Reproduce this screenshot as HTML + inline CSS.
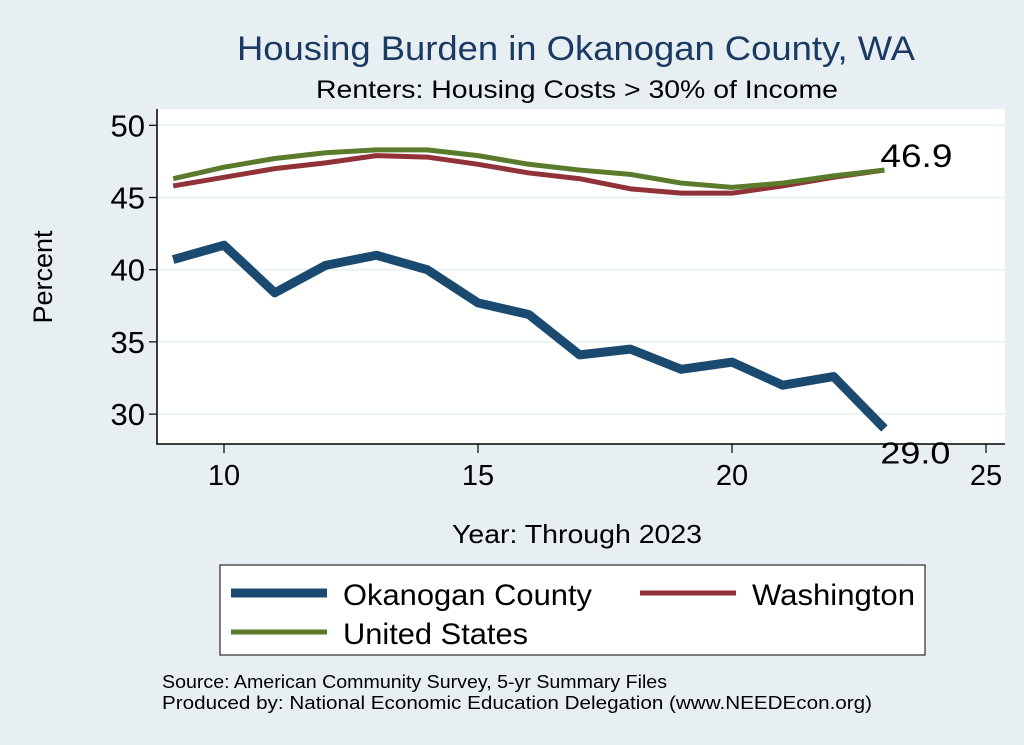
<!DOCTYPE html>
<html><head><meta charset="utf-8"><style>
body{margin:0;background:#e8eff3;}
svg{display:block;font-family:"Liberation Sans",sans-serif;}
</style></head><body>
<svg width="1024" height="745" viewBox="0 0 1024 745">
<rect x="0" y="0" width="1024" height="745" fill="#e8eff3"/>
<text x="237" y="60" font-size="34" fill="#1a3a64" textLength="678" lengthAdjust="spacingAndGlyphs">Housing Burden in Okanogan County, WA</text>
<text x="316" y="98" font-size="25" fill="#000" textLength="522" lengthAdjust="spacingAndGlyphs">Renters: Housing Costs &gt; 30% of Income</text>
<rect x="157" y="109" width="848" height="335" fill="#fff"/>
<g id="grid"></g>
<g id="axes"></g>
<g id="series"></g>
<text x="52" y="277" font-size="27" text-anchor="middle" transform="rotate(-90 52 277)">Percent</text>
<text x="452" y="543" font-size="26" textLength="250" lengthAdjust="spacingAndGlyphs">Year: Through 2023</text>
<g>
<rect x="220" y="565" width="705" height="90" fill="#fff" stroke="#000" stroke-width="1"/>
<line x1="231" y1="593" x2="327" y2="593" stroke="#1b4a70" stroke-width="9"/>
<text x="343" y="605" font-size="30" textLength="249" lengthAdjust="spacingAndGlyphs">Okanogan County</text>
<line x1="640" y1="593" x2="736" y2="593" stroke="#903237" stroke-width="5"/>
<text x="752" y="605" font-size="30" textLength="163" lengthAdjust="spacingAndGlyphs">Washington</text>
<line x1="231" y1="632" x2="327" y2="632" stroke="#5a7a2c" stroke-width="5"/>
<text x="343" y="644" font-size="30" textLength="185" lengthAdjust="spacingAndGlyphs">United States</text>
</g>
<text x="162" y="688" font-size="18" textLength="505" lengthAdjust="spacingAndGlyphs">Source: American Community Survey, 5-yr Summary Files</text>
<text x="162" y="709" font-size="18" textLength="710" lengthAdjust="spacingAndGlyphs">Produced by: National Economic Education Delegation (www.NEEDEcon.org)</text>
</svg>
<script>
const years=[9,10,11,12,13,14,15,16,17,18,19,20,21,22,23];
const okanogan=[40.7,41.7,38.4,40.3,41.0,40.0,37.7,36.9,34.1,34.5,33.1,33.6,32.0,32.6,29.0];
const washington=[45.8,46.4,47.0,47.4,47.9,47.8,47.3,46.7,46.3,45.6,45.3,45.3,45.8,46.4,46.9];
const unitedStates=[46.3,47.1,47.7,48.1,48.3,48.3,47.9,47.3,46.9,46.6,46.0,45.7,46.0,46.5,46.9];
const yTicks=[30,35,40,45,50];
const xTicks=[10,15,20,25];
const NS='http://www.w3.org/2000/svg';
function xs(v){return 224+(v-10)*50.8;}
function ys(v){return 125.3-(v-50)*14.44;}
function mk(tag,attrs,parent){const e=document.createElementNS(NS,tag);for(const k in attrs)e.setAttribute(k,attrs[k]);document.getElementById(parent).appendChild(e);return e;}
yTicks.forEach(t=>{
 let g=mk('line',{x1:158,x2:1005,y1:ys(t),y2:ys(t),stroke:'#eaf2f3','stroke-width':2},'grid');
 
 
 let tk=mk('line',{x1:149,x2:157,y1:ys(t),y2:ys(t),stroke:'#000','stroke-width':1.2},'axes');
 
 
 let tx=mk('text',{x:145,y:ys(t)+11,'font-size':31,'text-anchor':'end'},'axes');tx.textContent=t;
 
 
});
xTicks.forEach(t=>{
 let tk=mk('line',{x1:xs(t),x2:xs(t),y1:444,y2:453,stroke:'#000','stroke-width':1.2},'axes');
 
 
 let tx=mk('text',{x:xs(t),y:485,'font-size':29,'text-anchor':'middle'},'axes');tx.textContent=t;
 
 
});
let ax=mk('path',{d:'M157,109 V444 H1005',fill:'none',stroke:'#000','stroke-width':1.5},'axes');


function series(vals,color,w,name){
 const p=mk('polyline',{points:years.map((y,i)=>xs(y)+','+ys(vals[i])).join(' '),fill:'none',stroke:color,'stroke-width':w,'stroke-linejoin':'round'},'series');
 
 
}
series(washington,'#903237',5,'line-washington');
series(unitedStates,'#5a7a2c',5,'line-united-states');
series(okanogan,'#1b4a70',9,'line-okanogan');
const n=years.length-1;
let l1=mk('text',{x:xs(years[n])-4,y:ys(unitedStates[n])-3,'font-size':32,textLength:72,lengthAdjust:'spacingAndGlyphs'},'series');l1.textContent=unitedStates[n].toFixed(1);


let l2=mk('text',{x:xs(years[n])-4,y:ys(okanogan[n])+35,'font-size':31,textLength:70,lengthAdjust:'spacingAndGlyphs'},'series');l2.textContent=okanogan[n].toFixed(1);


</script>
</body></html>
